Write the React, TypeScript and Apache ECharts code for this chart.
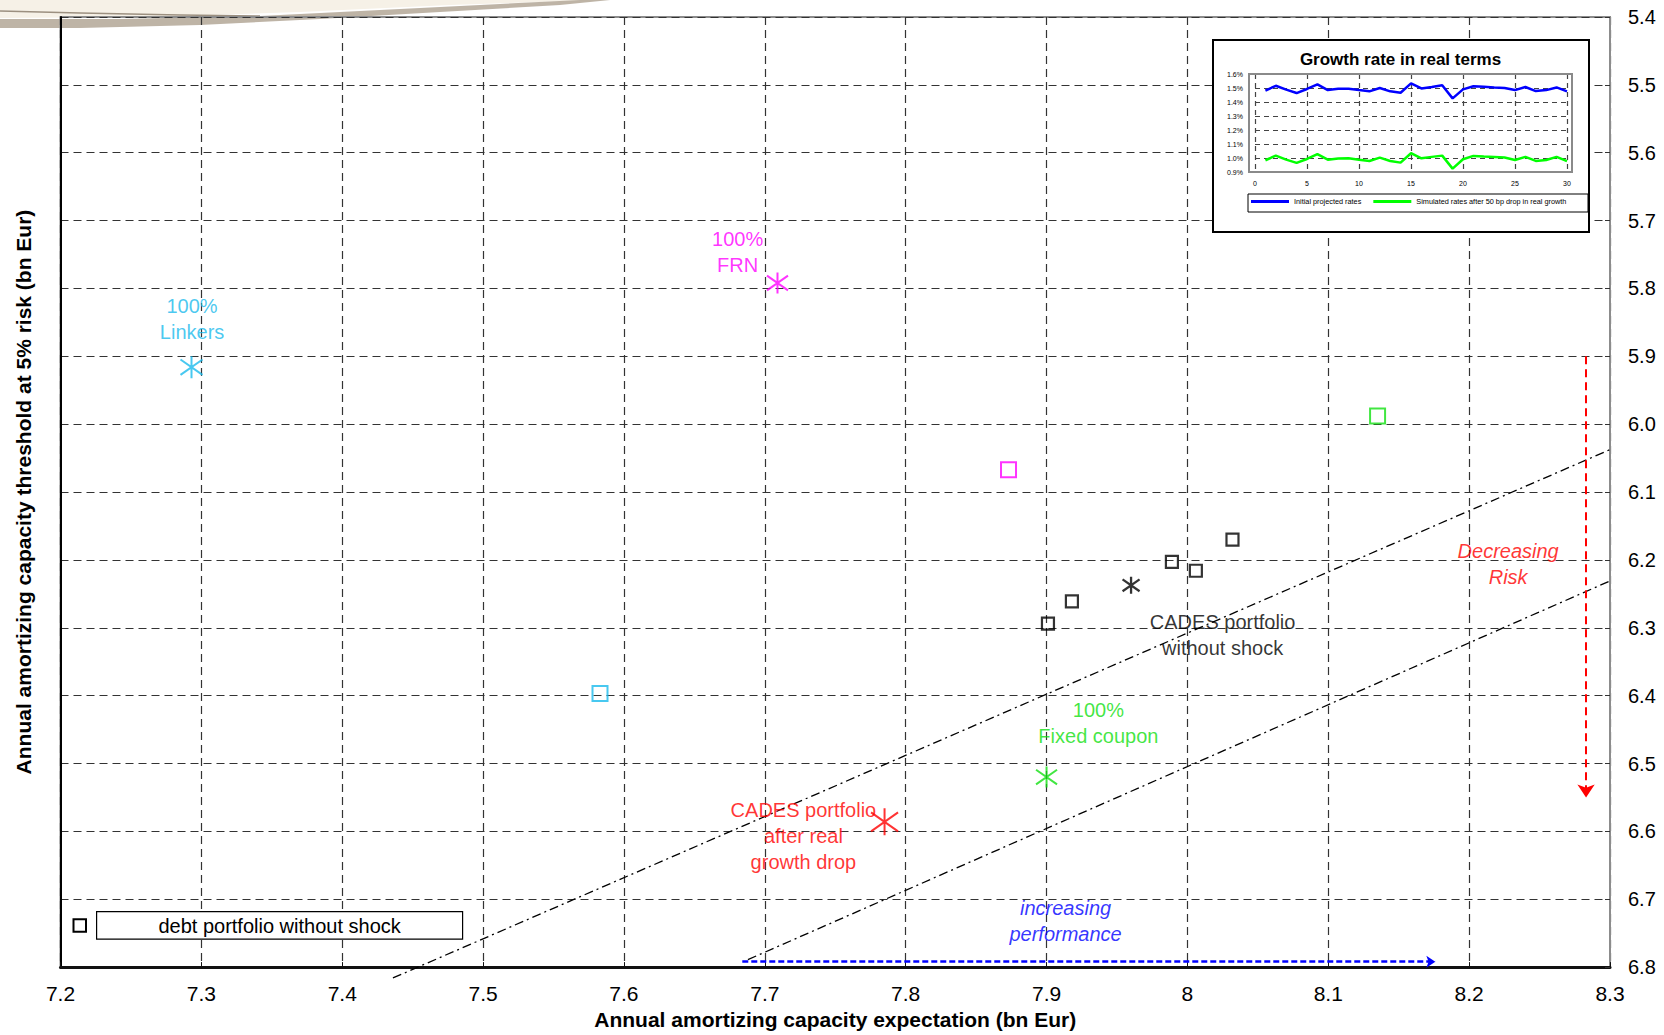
import React, { useEffect, useRef } from "react";
import * as echarts from "echarts";

// ---------- data ----------
const X_TICKS = { min: 7.2, max: 8.3, step: 0.1 };
const Y_TICKS = { min: 5.4, max: 6.8, step: 0.1 };

const debtPortfolios: number[][] = [
  [7.901, 6.294],
  [7.918, 6.261],
  [7.989, 6.203],
  [8.006, 6.216],
  [8.032, 6.17],
];
const linkersSquare: number[][] = [[7.583, 6.397]];
const frnSquare: number[][] = [[7.873, 6.067]];
const fixedSquare: number[][] = [[8.135, 5.988]];

const linkersPoint: number[][] = [[7.293, 5.916]];
const frnPoint: number[][] = [[7.709, 5.792]];
const fixedPoint: number[][] = [[7.9, 6.52]];
const cadesPoint: number[][] = [[7.96, 6.2375]];
const cadesShockPoint: number[][] = [[7.785, 6.586]];

const frontierUpper: number[][] = [[7.436, 6.816], [8.3, 6.0375]];
const frontierLower: number[][] = [[7.688, 6.789], [8.3, 6.231]];
const riskArrow: number[][] = [[8.283, 5.9], [8.283, 6.55]];
const perfArrow: number[][] = [[7.684, 6.792], [8.176, 6.792]];

const annotationTexts = [
  "100%\nLinkers",
  "100%\nFRN",
  "100%\nFixed coupon",
  "CADES portfolio\nwithout shock",
  "CADES portfolio\nafter real\ngrowth drop",
  "Decreasing\nRisk",
  "increasing\nperformance",
];
const annotationPos: number[][] = [
  [7.2934, 5.8445],
  [7.6807, 5.7469],
  [7.9368, 6.4398],
  [8.025, 6.3102],
  [7.7274, 6.607],
  [8.2277, 6.2063],
  [7.9135, 6.732],
];

// inset: growth rate in real terms (%)
const YEARS = [1, 2, 3, 4, 5, 6, 7, 8, 9, 10, 11, 12, 13, 14, 15, 16, 17, 18, 19, 20, 21, 22, 23, 24, 25, 26, 27, 28, 29, 30];
const initialRates = [
  1.481, 1.516, 1.488, 1.464, 1.493, 1.526, 1.485, 1.495, 1.495, 1.485,
  1.476, 1.5, 1.476, 1.466, 1.533, 1.497, 1.507, 1.519, 1.426, 1.49,
  1.512, 1.509, 1.504, 1.5, 1.485, 1.507, 1.478, 1.485, 1.504, 1.476,
];
const simulatedRates = [
  0.984, 1.017, 0.988, 0.965, 0.993, 1.027, 0.988, 0.996, 0.998, 0.988,
  0.979, 1.003, 0.979, 0.967, 1.034, 0.998, 1.008, 1.017, 0.924, 0.991,
  1.015, 1.01, 1.008, 1.003, 0.986, 1.008, 0.979, 0.986, 1.008, 0.977,
];
const INSET_X = { min: 0, max: 30, step: 5 };
const INSET_Y = { min: 0.9, max: 1.6, step: 0.1 };

// ---------- styles ----------
const FONT = "'Liberation Sans', Arial, sans-serif";
const NARROW = "'Liberation Sans Narrow', 'Liberation Sans', Arial, sans-serif";
const CYAN = "#1ABAEC";
const MAGENTA = "#FF00FF";
const GREEN = "#11E011";
const RED = "#FF0000";
const BLUE = "#0000FF";
const annotationColors = [CYAN, MAGENTA, GREEN, "#000000", RED, RED, BLUE];
const annotationItalic = [false, false, false, false, false, true, true];

const STAR = "path://M10,0L10,20M0,3L20,17M0,17L20,3";

function squareSeries(name: string, data: number[][], color: string, size: number, width: number) {
  return {
    type: "scatter",
    name,
    data,
    symbol: "rect",
    symbolSize: size,
    itemStyle: { color: "rgba(0,0,0,0)", borderColor: color, borderWidth: width },
    z: 3,
  };
}
function starSeries(name: string, data: number[][], color: string, size: number[], width = 2) {
  return {
    type: "scatter",
    name,
    data,
    symbol: STAR,
    symbolSize: size,
    itemStyle: { color: "rgba(0,0,0,0)", borderColor: color, borderWidth: width },
    z: 3,
  };
}

export default function App() {
  const ref = useRef<HTMLDivElement>(null);
  useEffect(() => {
    document.body.style.margin = "0";
    document.body.style.overflow = "hidden";
    const chart = echarts.init(ref.current!, null, { renderer: "svg" });

    const option: any = {
      animation: false,
      backgroundColor: "#ffffff",
      textStyle: { fontFamily: FONT },
      grid: [
        {
          left: 60.5,
          right: 54,
          top: 17,
          bottom: 57.5,
          show: true,
          borderColor: "#8c8c8c",
          borderWidth: 2,
        },
        { left: 1255, top: 74, width: 312, height: 98, z: 10 },
      ],
      xAxis: [
        {
          type: "value",
          gridIndex: 0,
          min: X_TICKS.min,
          max: X_TICKS.max,
          interval: X_TICKS.step,
          axisLine: { show: true, onZero: false, lineStyle: { color: "#111", width: 3 } },
          axisTick: { show: true, inside: true, length: 5, lineStyle: { color: "#111" } },
          axisLabel: {
            fontFamily: NARROW,
            fontSize: 21,
            color: "#000",
            margin: 16,
            formatter: (v: number) => String(parseFloat(v.toFixed(1))),
          },
          splitLine: { show: true, lineStyle: { color: "#333", type: [8, 5], width: 1.2 } },
          name: "Annual amortizing capacity expectation (bn Eur)",
          nameLocation: "middle",
          nameGap: 40,
          nameTextStyle: { fontFamily: NARROW, fontSize: 21, fontWeight: "bold", color: "#000" },
        },
        {
          type: "value",
          gridIndex: 1,
          min: INSET_X.min,
          max: INSET_X.max,
          interval: INSET_X.step,
          z: 10,
          axisLine: { show: false },
          axisTick: { show: false },
          axisLabel: { fontSize: 7, color: "#000", margin: 8, fontFamily: FONT },
          splitLine: { show: true, lineStyle: { color: "#444", type: [5, 4], width: 1.2 } },
        },
      ],
      yAxis: [
        {
          type: "value",
          gridIndex: 0,
          position: "right",
          inverse: true,
          min: Y_TICKS.min,
          max: Y_TICKS.max,
          interval: Y_TICKS.step,
          axisLine: { show: true, onZero: false, lineStyle: { color: "#8c8c8c", width: 2 } },
          axisTick: { show: true, inside: true, length: 5, lineStyle: { color: "#333" } },
          axisLabel: {
            fontSize: 20,
            color: "#000",
            margin: 18,
            formatter: (v: number) => v.toFixed(1),
          },
          splitLine: { show: true, lineStyle: { color: "#333", type: [8, 5], width: 1.2 } },
        },
        {
          type: "value",
          gridIndex: 0,
          position: "left",
          inverse: true,
          min: Y_TICKS.min,
          max: Y_TICKS.max,
          interval: Y_TICKS.step,
          axisLine: { show: true, onZero: false, lineStyle: { color: "#000", width: 2 } },
          axisTick: { show: false },
          axisLabel: { show: false },
          splitLine: { show: false },
          name: "Annual amortizing capacity threshold at 5% risk (bn Eur)",
          nameLocation: "middle",
          nameRotate: 90,
          nameGap: 27,
          nameTextStyle: { fontSize: 21, fontWeight: "bold", color: "#000" },
        },
        {
          type: "value",
          gridIndex: 1,
          min: INSET_Y.min,
          max: INSET_Y.max,
          interval: INSET_Y.step,
          z: 10,
          axisLine: { show: false },
          axisTick: { show: false },
          axisLabel: {
            fontSize: 7,
            color: "#000",
            margin: 12,
            fontFamily: FONT,
            formatter: (v: number) => v.toFixed(1) + "%",
          },
          splitLine: { show: true, lineStyle: { color: "#444", type: [5, 4], width: 1.2 } },
        },
      ],
      legend: {
        data: ["Initial projected rates", "Simulated rates after 50 bp drop in real growth"],
        left: 1251,
        top: 198,
        icon: "rect",
        itemWidth: 38,
        itemHeight: 3,
        itemGap: 12,
        padding: 0,
        selectedMode: false,
        z: 13,
        textStyle: { fontSize: 7.3, color: "#000", fontFamily: FONT },
      },
      graphic: [
        // decorative swoosh at the top left
        {
          type: "polygon",
          z: -2,
          shape: {
            points: [
              [0, 0], [640, 0], [600, 0], [450, 5], [300, 12], [150, 17], [0, 18],
            ],
          },
          style: { fill: "#f6f1e7" },
        },
        {
          type: "polygon",
          z: -1,
          shape: {
            points: [
              [0, 19], [120, 19], [260, 16], [380, 10], [500, 4], [600, -1],
              [620, -1], [560, 5], [440, 12], [320, 19], [200, 25], [80, 28], [0, 28],
            ],
          },
          style: { fill: "#b3a797", opacity: 0.85 },
        },
        {
          type: "polyline",
          z: -1,
          shape: { points: [[0, 11], [80, 13], [180, 15], [260, 16]] },
          style: { stroke: "#9c9080", lineWidth: 1.5, fill: "none" },
        },
        // legend of the main chart
        {
          type: "rect",
          z: 5,
          shape: { x: 73.5, y: 919.2, width: 12.5, height: 12.5 },
          style: { fill: "#fff", stroke: "#000", lineWidth: 2 },
        },
        {
          type: "rect",
          z: 5,
          shape: { x: 96.6, y: 911.6, width: 366, height: 27.6 },
          style: { fill: "#fff", stroke: "#000", lineWidth: 1.2 },
        },
        {
          type: "text",
          z: 6,
          x: 279.6,
          y: 925.6,
          style: {
            text: "debt portfolio without shock",
            fontSize: 20,
            fontFamily: FONT,
            fill: "#000",
            align: "center",
            verticalAlign: "middle",
          },
        },
        // inset frame
        {
          type: "rect",
          z: 8,
          shape: { x: 1213, y: 40, width: 376, height: 192 },
          style: { fill: "#fff", stroke: "#000", lineWidth: 2 },
        },
        {
          type: "text",
          z: 11,
          x: 1400.5,
          y: 59,
          style: {
            text: "Growth rate in real terms",
            fontSize: 17,
            fontWeight: "bold",
            fontFamily: FONT,
            fill: "#000",
            align: "center",
            verticalAlign: "middle",
          },
        },
        {
          type: "rect",
          z: 11,
          shape: { x: 1249, y: 74, width: 323, height: 98 },
          style: { fill: "none", stroke: "#8a8a8a", lineWidth: 2 },
        },
        {
          type: "rect",
          z: 11,
          shape: { x: 1248, y: 194, width: 340, height: 18 },
          style: { fill: "#fff", stroke: "#000", lineWidth: 1 },
        },
      ],
      series: [
        squareSeries("debt portfolio without shock", debtPortfolios, "#000", 12, 2.2),
        squareSeries("linkers square", linkersSquare, CYAN, 15, 2),
        squareSeries("frn square", frnSquare, MAGENTA, 15, 2),
        squareSeries("fixed square", fixedSquare, GREEN, 15, 2),
        starSeries("100% Linkers", linkersPoint, CYAN, [22, 22]),
        starSeries("100% FRN", frnPoint, MAGENTA, [21, 21]),
        starSeries("100% Fixed coupon", fixedPoint, GREEN, [21, 21]),
        starSeries("CADES portfolio without shock", cadesPoint, "#000", [17, 17], 2.3),
        starSeries("CADES portfolio after real growth drop", cadesShockPoint, RED, [27, 27]),
        {
          type: "line",
          name: "frontier upper",
          data: frontierUpper,
          symbol: "none",
          clip: false,
          lineStyle: { color: "#000", width: 1.3, type: [9, 4, 2, 4] },
          z: 2,
        },
        {
          type: "line",
          name: "frontier lower",
          data: frontierLower,
          symbol: "none",
          clip: false,
          lineStyle: { color: "#000", width: 1.3, type: [9, 4, 2, 4] },
          z: 2,
        },
        {
          type: "line",
          name: "arrows",
          data: [],
          clip: false,
          markLine: {
            silent: true,
            animation: false,
            label: { show: false },
            data: [
              [
                {
                  coord: riskArrow[0],
                  symbol: "none",
                  lineStyle: { color: RED, width: 2, type: [8, 5] },
                },
                { coord: riskArrow[1], symbol: "arrow", symbolSize: 13 },
              ],
              [
                {
                  coord: perfArrow[0],
                  symbol: "none",
                  lineStyle: { color: BLUE, width: 2.5, type: [6, 3] },
                },
                { coord: perfArrow[1], symbol: "arrow", symbolSize: 9 },
              ],
            ],
          },
        },
        {
          type: "scatter",
          name: "annotations",
          symbolSize: 1,
          itemStyle: { color: "rgba(0,0,0,0)" },
          z: 4,
          data: annotationPos.map((p, i) => ({
            value: p,
            label: {
              show: true,
              position: "inside",
              formatter: annotationTexts[i],
              color: annotationColors[i],
              fontStyle: annotationItalic[i] ? "italic" : "normal",
              fontSize: 20,
              lineHeight: 26,
              fontFamily: FONT,
              align: "center",
              verticalAlign: "middle",
            },
          })),
        },
        {
          type: "line",
          name: "Initial projected rates",
          xAxisIndex: 1,
          yAxisIndex: 2,
          data: YEARS.map((y, i) => [y, initialRates[i]]),
          showSymbol: false,
          symbol: "none",
          lineStyle: { color: BLUE, width: 2.5 },
          itemStyle: { color: BLUE },
          z: 12,
        },
        {
          type: "line",
          name: "Simulated rates after 50 bp drop in real growth",
          xAxisIndex: 1,
          yAxisIndex: 2,
          data: YEARS.map((y, i) => [y, simulatedRates[i]]),
          showSymbol: false,
          symbol: "none",
          lineStyle: { color: "#00FF00", width: 2.5 },
          itemStyle: { color: "#00FF00" },
          z: 12,
        },
      ],
    };

    chart.setOption(option);
    return () => chart.dispose();
  }, []);

  return <div ref={ref} style={{ width: 1664, height: 1035 }} />;
}
